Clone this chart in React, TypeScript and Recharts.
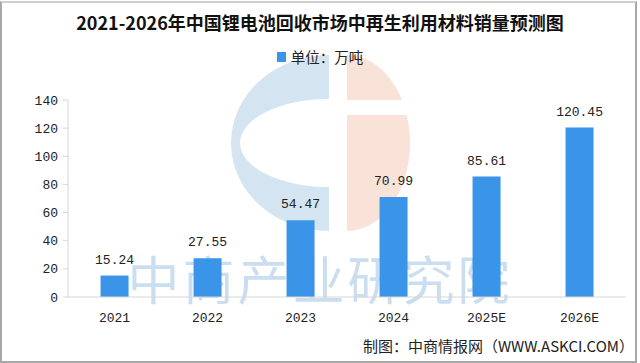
import React from "react";
import { BarChart, Bar, XAxis, YAxis, LabelList, Legend } from "recharts";

const years = ["2021", "2022", "2023", "2024", "2025E", "2026E"];
const sales = [15.24, 27.55, 54.47, 70.99, 85.61, 120.45];
const yTicks = [0, 20, 40, 60, 80, 100, 120, 140];
const slotTicks = [0, 1, 2, 3, 4, 5, 6];

const data = years.map((year, i) => ({ year, sales: sales[i] }));

const BAR_COLOR = "#3a94e8";
const AXIS_COLOR = "#d6d6d6";
const numFont = '"Liberation Mono", monospace';
const cjkFont = '"Noto Sans CJK SC", sans-serif';

function LegendBox() {
  return (
    <div style={{ display: "flex", alignItems: "center", justifyContent: "center", fontFamily: cjkFont, fontSize: 14.5, color: "#222" }}>
      <span style={{ display: "inline-block", width: 9, height: 10, background: BAR_COLOR, marginRight: 5 }} />
      单位：万吨
    </div>
  );
}

function Watermark() {
  return (
    <svg width={640} height={363} style={{ position: "absolute", left: 0, top: 0 }}>
      <path d="M 329 55 A 98 88 0 0 0 329 231 L 329 187 A 89 44 0 0 1 329 99 Z" fill="#d5e4f1" />
      <path d="M 347 55 A 63 88 0 0 1 410 143 A 63 88 0 0 1 347 231 Z" fill="#f9e2d8" />
      <rect x={340} y={100} width={80} height={15} fill="#fff" />
      <text x={320} y={300} textAnchor="middle" fontFamily={cjkFont} fontSize={52} letterSpacing={3} fill="#cadef0">
        中商产业研究院
      </text>
    </svg>
  );
}

export default function App() {
  return (
    <div style={{ position: "absolute", left: 0, top: 0, width: 640, height: 363, background: "#fff", overflow: "hidden" }}>
      <Watermark />
      <div style={{ position: "absolute", left: 0, top: 1, width: 633, height: 358, border: "2px solid #a8a8a8", borderTopColor: "#cfcfcf" }} />
      <div style={{ position: "absolute", left: 0, top: 9, width: 640, textAlign: "center", fontFamily: cjkFont, fontWeight: 700, fontSize: 18, color: "#111" }}>
        2021-2026年中国锂电池回收市场中再生利用材料销量预测图
      </div>
      <div style={{ position: "absolute", left: 0, top: 0 }}>
        <BarChart width={640} height={363} data={data} margin={{ top: 79, right: 14, left: 8, bottom: 36 }} barCategoryGap="35%">
          <Legend verticalAlign="top" content={() => <LegendBox />} wrapperStyle={{ top: 46, left: 0, width: 640 }} />
          <XAxis
            xAxisId="slots"
            type="number"
            dataKey="sales"
            domain={[0, 6]}
            ticks={slotTicks}
            tickFormatter={() => ""}
            height={0}
            axisLine={false}
            tickSize={5}
            tickLine={{ stroke: AXIS_COLOR }}
            allowDataOverflow
          />
          <XAxis
            dataKey="year"
            height={30}
            axisLine={{ stroke: AXIS_COLOR }}
            tickLine={false}
            tickMargin={10}
            tick={{ fontFamily: numFont, fontSize: 13, fill: "#222" }}
            interval={0}
          />
          <YAxis
            domain={[0, 140]}
            ticks={yTicks}
            width={60}
            axisLine={{ stroke: AXIS_COLOR }}
            tickLine={{ stroke: AXIS_COLOR }}
            tickSize={5}
            tickMargin={5}
            tick={{ fontFamily: numFont, fontSize: 13, fill: "#222" }}
          />
          <Bar dataKey="sales" fill={BAR_COLOR} isAnimationActive={false}>
            <LabelList dataKey="sales" position="top" offset={12} style={{ fontFamily: numFont, fontSize: 13, fill: "#222" }} formatter={(v: number) => v.toFixed(2)} />
          </Bar>
        </BarChart>
      </div>
      <div style={{ position: "absolute", right: 6, top: 335, fontFamily: cjkFont, fontSize: 15, color: "#222" }}>
        制图：中商情报网（WWW.ASKCI.COM）
      </div>
    </div>
  );
}
